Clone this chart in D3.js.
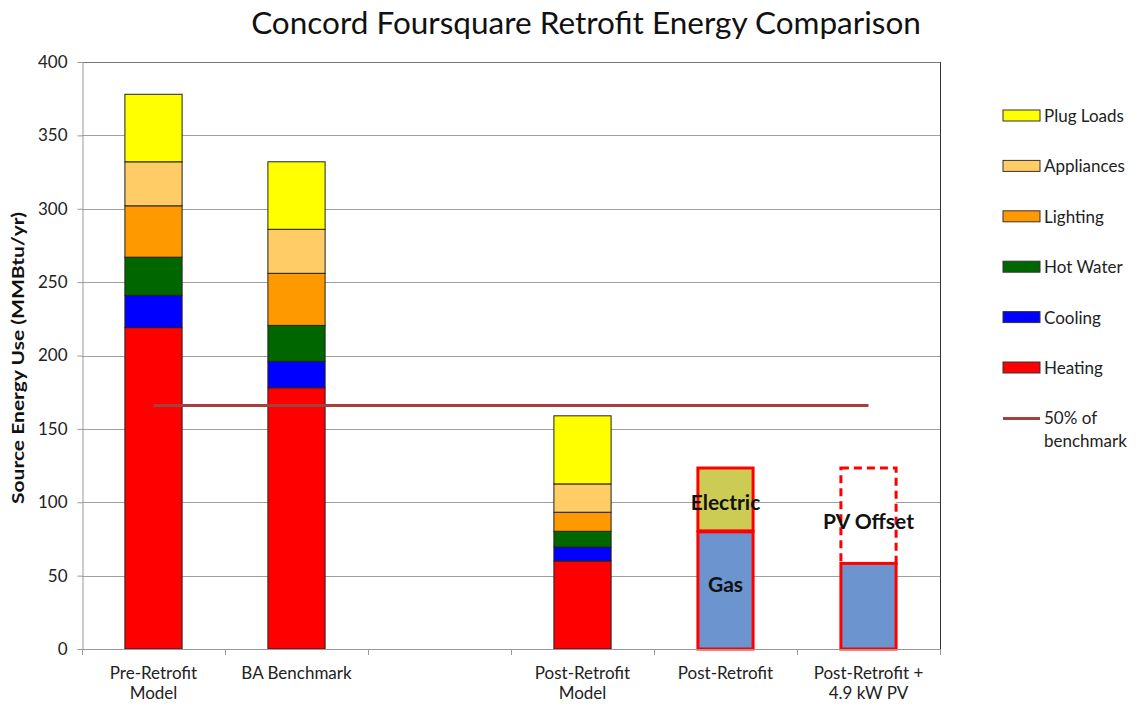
<!DOCTYPE html>
<html>
<head>
<meta charset="utf-8">
<script src="https://cdn.jsdelivr.net/npm/d3@7"></script>
<style>
  body { margin: 0; background: #fff; }
  text { font-family: Lato, "Open Sans", sans-serif; }
</style>
</head>
<body>
<div id="chart"></div>
<script>
// categories along the x axis (the third slot is left empty in the original)
var categories = ["pre", "ba", "gap", "post", "fuel", "pv"];
var categoryLabels = [["Pre-Retrofit", "Model"], ["BA Benchmark"], [""], ["Post-Retrofit", "Model"], ["Post-Retrofit"], ["Post-Retrofit +", "4.9 kW PV"]];

// end-use breakdown (MMBtu/yr), same order as categories
var endUses = ["Heating", "Cooling", "Hot Water", "Lighting", "Appliances", "Plug Loads"];
var heating   = [219, 178, 0, 60, 0, 0];
var cooling   = [22, 18, 0, 9.5, 0, 0];
var hotWater  = [26, 24.5, 0, 10.7, 0, 0];
var lighting  = [35, 35.5, 0, 13, 0, 0];
var appliances = [30, 30, 0, 19.3, 0, 0];
var plugLoads = [46, 46, 0, 46.4, 0, 0];

// fuel breakdown for the last two bars
var gas      = [0, 0, 0, 0, 80.5, 59];
var electric = [0, 0, 0, 0, 43.5, 0];
var pvOffset = [0, 0, 0, 0, 0, 65];

var benchmarkHalf = 166;
var yTicks = [0, 50, 100, 150, 200, 250, 300, 350, 400];

var colors = {
  "Heating": "#ff0000", "Cooling": "#0000ff", "Hot Water": "#006600",
  "Lighting": "#ff9900", "Appliances": "#ffcc66", "Plug Loads": "#ffff00"
};

var width = 1144, height = 707;
var margin = {top: 62, right: 204, bottom: 58, left: 82};
var fs = "17px";

var svg = d3.select("#chart").append("svg")
  .attr("width", width)
  .attr("height", height);

var x = d3.scaleBand()
  .domain(categories)
  .range([margin.left, width - margin.right])
  .paddingInner(0.6)
  .paddingOuter(0.3);

var y = d3.scaleLinear()
  .domain([0, 400])
  .range([height - margin.bottom, margin.top]);

// title
svg.append("text")
  .attr("x", 586)
  .attr("y", 34)
  .attr("text-anchor", "middle")
  .style("font-size", "31.5px")
  .style("fill", "#111")
  .text("Concord Foursquare Retrofit Energy Comparison");

// gridlines
svg.append("g")
  .selectAll("line")
  .data(yTicks.filter(function(d) { return d > 0; }))
  .enter().append("line")
    .attr("x1", margin.left)
    .attr("x2", width - margin.right)
    .attr("y1", function(d) { return Math.round(y(d)) + 0.5; })
    .attr("y2", function(d) { return Math.round(y(d)) + 0.5; })
    .attr("stroke", function(d) { return d == 400 ? "#777" : "#a0a0a0"; })
    .attr("stroke-width", 1.2);

// right border of plot area
svg.append("line")
  .attr("x1", width - margin.right + 0.5).attr("x2", width - margin.right + 0.5)
  .attr("y1", margin.top).attr("y2", height - margin.bottom)
  .attr("stroke", "#333").attr("stroke-width", 1);

// stacked end-use bars
var rows = categories.map(function(c, i) {
  return {cat: c, "Heating": heating[i], "Cooling": cooling[i], "Hot Water": hotWater[i],
          "Lighting": lighting[i], "Appliances": appliances[i], "Plug Loads": plugLoads[i]};
});
var stack = d3.stack().keys(endUses);
var series = stack(rows);

svg.append("g")
  .selectAll("g")
  .data(series)
  .enter().append("g")
    .attr("fill", function(d) { return colors[d.key]; })
  .selectAll("rect")
  .data(function(d) { return d.filter(function(p) { return p[1] - p[0] > 0; }); })
  .enter().append("rect")
    .attr("x", function(d) { return x(d.data.cat); })
    .attr("width", x.bandwidth())
    .attr("y", function(d) { return y(d[1]); })
    .attr("height", function(d) { return y(d[0]) - y(d[1]); })
    .attr("stroke", "#222")
    .attr("stroke-width", 1);

// fuel bars: gas, electric, pv offset (pv drawn first so the solid gas edge sits on top)
var fuelRows = categories.map(function(c, i) {
  return {cat: c, gas: gas[i], electric: electric[i], pv: pvOffset[i]};
});
var fuelSeries = d3.stack().keys(["gas", "electric", "pv"])(fuelRows).reverse();
var fuelFill = {gas: "#6c94cf", electric: "#cccc55", pv: "#ffffff"};

svg.append("g")
  .selectAll("g")
  .data(fuelSeries)
  .enter().append("g")
  .selectAll("rect")
  .data(function(d) {
    return d.filter(function(p) { return p[1] - p[0] > 0; })
            .map(function(p) { return {key: d.key, p: p}; });
  })
  .enter().append("rect")
    .attr("x", function(d) { return x(d.p.data.cat) + 1; })
    .attr("width", x.bandwidth() - 2)
    .attr("y", function(d) { return y(d.p[1]) + 1; })
    .attr("height", function(d) { return y(d.p[0]) - y(d.p[1]) - (d.key == "pv" ? 0 : 1); })
    .attr("fill", function(d) { return fuelFill[d.key]; })
    .attr("stroke", "#ff0000")
    .attr("stroke-width", 3)
    .attr("stroke-dasharray", function(d) { return d.key == "pv" ? "8,5" : null; });

// labels inside fuel bars
var fuelLabels = [
  {cat: "fuel", v: 100, t: "Electric"},
  {cat: "fuel", v: 44, t: "Gas"},
  {cat: "pv", v: 87, t: "PV Offset"}
];
svg.append("g")
  .selectAll("text")
  .data(fuelLabels)
  .enter().append("text")
    .attr("x", function(d) { return x(d.cat) + x.bandwidth() / 2; })
    .attr("y", function(d) { return y(d.v); })
    .attr("dy", "0.35em")
    .attr("text-anchor", "middle")
    .style("font-size", "21px")
    .style("font-weight", "bold")
    .style("fill", "#111")
    .text(function(d) { return d.t; });

// 50% of benchmark line, from first to last bar centre
svg.append("line")
  .attr("x1", x("pre") + x.bandwidth() / 2)
  .attr("x2", x("pv") + x.bandwidth() / 2)
  .attr("y1", y(benchmarkHalf))
  .attr("y2", y(benchmarkHalf))
  .attr("stroke", "#a5403e")
  .attr("stroke-width", 3);

// y axis
var yAxis = svg.append("g")
  .attr("transform", "translate(" + (margin.left + 0.5) + ",0)")
  .call(d3.axisLeft(y).tickValues(yTicks).tickSize(5).tickPadding(10));
yAxis.select(".domain").attr("stroke", "#999");
yAxis.selectAll(".tick line").attr("stroke", "#999");
yAxis.selectAll("text")
  .style("font-size", fs)
  .style("font-family", "Lato, sans-serif")
  .attr("fill", "#222");

svg.append("text")
  .attr("transform", "translate(24," + 358 + ") rotate(-90)")
  .attr("text-anchor", "middle")
  .attr("textLength", 292)
  .attr("lengthAdjust", "spacingAndGlyphs")
  .style("font-size", "17px")
  .style("font-weight", "bold")
  .style("fill", "#111")
  .text("Source Energy Use (MMBtu/yr)");

// x axis: line plus ticks between categories
var x0 = margin.left;
var bottom = height - margin.bottom;
svg.append("line")
  .attr("x1", x0).attr("x2", width - margin.right)
  .attr("y1", bottom + 0.5).attr("y2", bottom + 0.5)
  .attr("stroke", "#999");
svg.append("g")
  .selectAll("line")
  .data(d3.range(categories.length + 1))
  .enter().append("line")
    .attr("x1", function(i) { return Math.round(x0 + i * (width - margin.right - x0) / categories.length) + 0.5; })
    .attr("x2", function(i) { return Math.round(x0 + i * (width - margin.right - x0) / categories.length) + 0.5; })
    .attr("y1", bottom)
    .attr("y2", bottom + 6)
    .attr("stroke", "#999");

var xl = svg.append("g")
  .selectAll("text")
  .data(categories.map(function(c, i) { return {cat: c, lines: categoryLabels[i]}; }))
  .enter().append("text")
    .attr("x", function(d) { return x(d.cat) + x.bandwidth() / 2; })
    .attr("y", bottom + 30)
    .attr("text-anchor", "middle")
    .style("font-size", fs)
    .style("fill", "#222");
xl.selectAll("tspan")
  .data(function(d) { return d.lines; })
  .enter().append("tspan")
    .attr("x", function() { var p = d3.select(this.parentNode).datum(); return x(p.cat) + x.bandwidth() / 2; })
    .attr("dy", function(d, i) { return i == 0 ? 0 : 20; })
    .text(function(d) { return d; });

// legend
var legendItems = endUses.slice().reverse();
var legend = svg.append("g").attr("transform", "translate(1003,110)");
var entry = legend.selectAll("g")
  .data(legendItems)
  .enter().append("g")
    .attr("transform", function(d, i) { return "translate(0," + (i * 50.4) + ")"; });
entry.append("rect")
  .attr("width", 37)
  .attr("height", 11)
  .attr("fill", function(d) { return colors[d]; })
  .attr("stroke", "#333")
  .attr("stroke-width", 1);
entry.append("text")
  .attr("x", 41)
  .attr("y", 6)
  .attr("dy", "0.35em")
  .style("font-size", fs)
  .style("fill", "#222")
  .text(function(d) { return d; });

var lineEntry = legend.append("g").attr("transform", "translate(0," + (6 * 50.4) + ")");
lineEntry.append("line")
  .attr("x1", 0).attr("x2", 37)
  .attr("y1", 6).attr("y2", 6)
  .attr("stroke", "#a5403e")
  .attr("stroke-width", 3);
lineEntry.append("text")
  .attr("x", 41)
  .attr("y", 6)
  .attr("dy", "0.35em")
  .style("font-size", fs)
  .style("fill", "#222")
  .text("50% of");
lineEntry.append("text")
  .attr("x", 41)
  .attr("y", 29)
  .attr("dy", "0.35em")
  .style("font-size", fs)
  .style("fill", "#222")
  .text("benchmark");
</script>
</body>
</html>
